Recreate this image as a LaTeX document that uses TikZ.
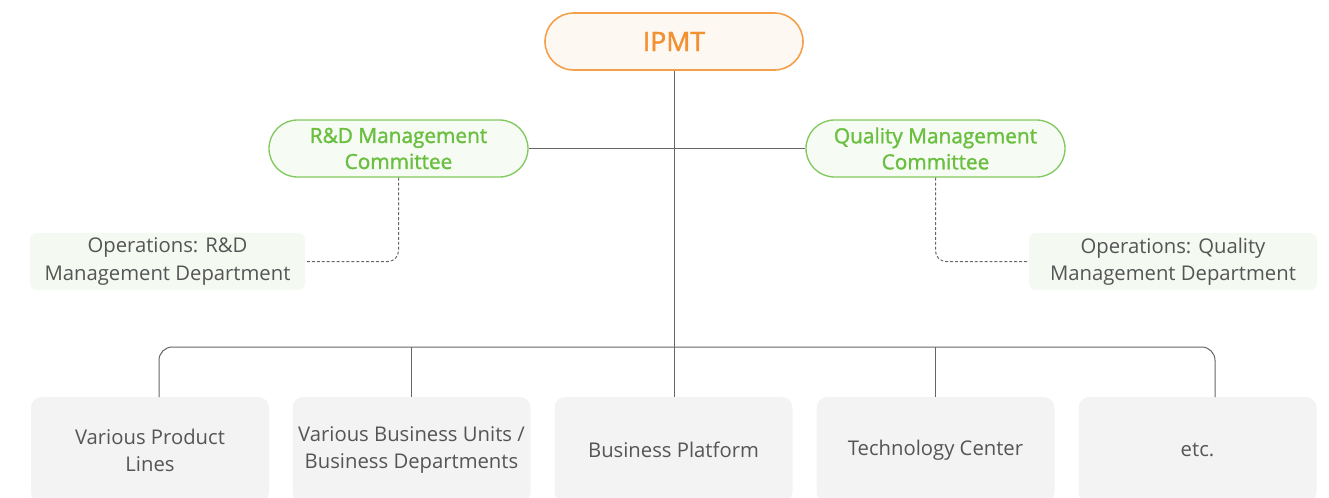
\documentclass[tikz,border=0pt]{standalone}
\usepackage{fontspec}
\setmainfont{Open Sans}
\newfontfamily\mediumfont{Open Sans}[FakeBold=1.5]
\usetikzlibrary{shapes.misc}
\definecolor{orgline}{HTML}{F4A04A}
\definecolor{orgtext}{HTML}{F39032}
\definecolor{orgfill}{HTML}{FEF8F3}
\definecolor{grnline}{HTML}{80C95E}
\definecolor{grntext}{HTML}{6ABF40}
\definecolor{grnfill}{HTML}{F6FBF3}
\definecolor{opsfill}{HTML}{F4F9F1}
\definecolor{txtgray}{HTML}{555555}
\definecolor{boxfill}{HTML}{F3F3F3}
\definecolor{linegray}{HTML}{666666}
\begin{document}
\begin{tikzpicture}[x=0.75pt,y=-0.75pt,
  top/.style={rounded rectangle, draw=orgline, line width=1.2pt, fill=orgfill,
    minimum width=258*0.75pt, minimum height=57*0.75pt, text=orgtext,
    font=\mediumfont\fontsize{20}{24}\selectfont, inner sep=0pt},
  comm/.style={rounded rectangle, draw=grnline, line width=1pt, fill=grnfill,
    minimum width=259*0.75pt, minimum height=57*0.75pt, text=grntext,
    font=\mediumfont\fontsize{15.6}{19.5}\selectfont, align=center, inner sep=0pt},
  ops/.style={rectangle, rounded corners=5pt, fill=opsfill,
    minimum height=57*0.75pt, text=txtgray,
    font=\fontsize{15.2}{20.3}\selectfont, align=center, inner sep=0pt},
  unit/.style={rectangle, rounded corners=8pt, fill=boxfill,
    minimum width=238*0.75pt, minimum height=106*0.75pt, text=txtgray,
    font=\fontsize{15.2}{20.3}\selectfont, align=center, inner sep=0pt},
  link/.style={draw=linegray, line width=0.75pt},
  dlink/.style={draw=linegray, line width=0.75pt, dash pattern=on 2.2pt off 1.5pt, rounded corners=8pt}
]
\useasboundingbox (0,0) rectangle (1329,497);
\clip (0,0) rectangle (1329,497);
% nodes
\node[top] (ipmt) at (674,41.5) {IPMT};
\node[comm] (rdc) at (398.5,148.5) {R\&D Management\\Committee};
\node[comm] (qmc) at (935.5,148.5) {Quality Management\\Committee};
\node[ops, minimum width=275*0.75pt] (rdo) at (167.5,261.5) {Operations: R\&D\\Management Department};
\node[ops, minimum width=288*0.75pt] (qmo) at (1173,261.5) {Operations: Quality\\Management Department};
\node[unit] (u1) at (150,450) {Various Product\\Lines};
\node[unit] (u2) at (411.5,450) {Various Business Units /\\Business Departments};
\node[unit] (u3) at (673.5,450) {Business Platform};
\node[unit] (u4) at (935.5,450) {Technology Center};
\node[unit] (u5) at (1197.5,450) {etc.};
% connectors
\coordinate (bar) at (674,347);
\coordinate (barL) at (159,397);
\coordinate (barR) at (1215,397);
\draw[link] (ipmt.south) -- (ipmt.south |- u3.north);
\draw[link] (rdc.east) -- (qmc.west);
\draw[link, rounded corners=10pt] (barL) |- (bar) -| (barR);
\draw[link] (u2.north |- bar) -- (u2.north);
\draw[link] (u4.north |- bar) -- (u4.north);
\draw[dlink] (rdc.south) |- (rdo.east);
\draw[dlink] (qmc.south) |- (qmo.west);
\end{tikzpicture}
\end{document}
